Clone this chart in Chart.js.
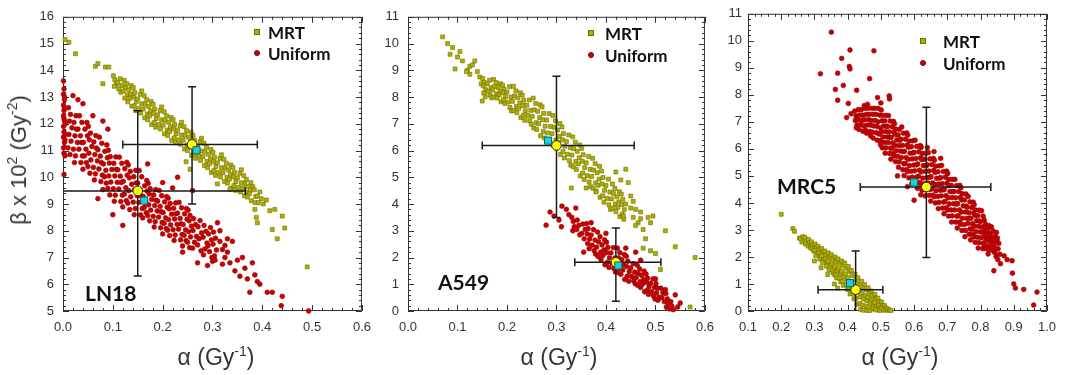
<!DOCTYPE html>
<html lang="en">
<head>
  <meta charset="UTF-8" />
  <title>Alpha / beta parameter clouds</title>
  <script src="https://cdn.jsdelivr.net/npm/chart.js"></script>
  <style>
    body {
      margin: 0;
      background: #fff;
      font-family: 'Liberation Sans', Arial, sans-serif;
    }
    #wrap {
      position: relative;
      width: 1065px;
      height: 375px;
      overflow: hidden;
    }
    canvas {
      position: absolute;
      top: 0;
    }
    .axis-title {
      position: absolute;
      font-size: 23px;
      line-height: 23px;
      color: #333;
      white-space: nowrap;
      transform: translate(-50%, -50%);
    }
    .axis-title sup {
      font-size: 14px;
      line-height: 0;
      vertical-align: 9px;
    }
    .axis-title.ytitle {
      font-size: 22px;
      line-height: 22px;
      transform: translate(-50%, -50%) rotate(-90deg);
    }
    .panel-label {
      position: absolute;
      font-family: Lato, sans-serif;
      font-weight: bold;
      font-size: 21px;
      line-height: 21px;
      color: #111;
      transform: translateY(-50%);
    }
    .legend {
      position: absolute;
      font-family: Lato, sans-serif;
      font-weight: bold;
      font-size: 17px;
      line-height: 17px;
      color: #111;
      transform: translateY(-50%);
    }
    .mk {
      position: absolute;
      width: 4px;
      height: 4px;
      transform: translate(-50%, -50%);
    }
    .mk.sq { background: #b0b000; border: 0.5px solid #707000; }
    .mk.ci { background: #cc0000; border: 0.5px solid #800000; border-radius: 50%; }
  </style>
</head>
<body>
<div id="wrap">
  <canvas id="c1" width="380" height="375" style="left:0px"></canvas>
  <canvas id="c2" width="378" height="375" style="left:345px"></canvas>
  <canvas id="c3" width="380" height="375" style="left:685px"></canvas>

  <div class="axis-title ytitle" style="left:19px; top:160px">β x 10<sup>2</sup> (Gy<sup>-2</sup>)</div>
  <div class="axis-title" style="left:216px; top:357px">α (Gy<sup>-1</sup>)</div>
  <div class="axis-title" style="left:559px; top:357px">α (Gy<sup>-1</sup>)</div>
  <div class="axis-title" style="left:900px; top:357px">α (Gy<sup>-1</sup>)</div>

  <div class="panel-label" style="left:85px; top:292px">LN18</div>
  <div class="panel-label" style="left:438px; top:281px">A549</div>
  <div class="panel-label" style="left:777px; top:185px">MRC5</div>

  <div class="mk sq" style="left:257px; top:32px"></div>
  <div class="legend" style="left:268px; top:32px">MRT</div>
  <div class="mk ci" style="left:257px; top:53px"></div>
  <div class="legend" style="left:268px; top:53px">Uniform</div>

  <div class="mk sq" style="left:591px; top:33px"></div>
  <div class="legend" style="left:605px; top:33px">MRT</div>
  <div class="mk ci" style="left:591px; top:55px"></div>
  <div class="legend" style="left:605px; top:55px">Uniform</div>

  <div class="mk sq" style="left:923px; top:41px"></div>
  <div class="legend" style="left:943px; top:41px">MRT</div>
  <div class="mk ci" style="left:923px; top:63px"></div>
  <div class="legend" style="left:943px; top:63px">Uniform</div>
</div>

<script>
  // ---- LN18 ----
  const ln18Mrt = [
    [0.004,15.15],[0.012,15.05],[0.025,14.62],[0.065,14.15],[0.07,14.25],[0.085,14.12],[0.092,14.12],[0.08,13.5],
    [0.101,13.8],[0.104,13.65],[0.107,13.5],[0.103,13.4],
    [0.115,13.68],[0.11,13.55],[0.118,13.43],[0.112,13.31],[0.116,13.18],
    [0.123,13.62],[0.128,13.5],[0.125,13.36],[0.121,13.22],[0.129,13.08],[0.124,12.96],
    [0.137,13.43],[0.132,13.27],[0.136,13.11],[0.134,12.95],[0.13,12.82],[0.138,12.66],
    [0.141,13.35],[0.144,13.17],[0.142,13.0],[0.147,12.82],[0.143,12.67],[0.146,12.49],
    [0.155,13.1],[0.15,12.93],[0.158,12.75],[0.152,12.57],[0.156,12.4],[0.158,13.23],
    [0.163,13.05],[0.168,12.9],[0.165,12.73],[0.161,12.55],[0.169,12.37],[0.164,12.22],
    [0.177,12.83],[0.172,12.65],[0.176,12.48],[0.174,12.3],[0.17,12.15],[0.178,11.97],
    [0.181,12.73],[0.184,12.55],[0.182,12.38],[0.187,12.2],[0.183,12.05],[0.186,11.87],
    [0.195,12.5],[0.19,12.33],[0.198,12.15],[0.192,11.97],[0.196,11.8],[0.198,12.63],
    [0.203,12.45],[0.208,12.3],[0.205,12.13],[0.201,11.95],[0.209,11.77],[0.204,11.62],
    [0.217,12.24],[0.212,12.06],[0.216,11.89],[0.214,11.71],[0.21,11.56],[0.218,11.38],
    [0.221,12.15],[0.224,11.97],[0.222,11.8],[0.227,11.62],[0.223,11.47],[0.226,11.29],
    [0.235,11.93],[0.23,11.76],[0.238,11.58],[0.232,11.4],[0.236,11.23],[0.238,12.06],
    [0.243,11.89],[0.248,11.74],[0.245,11.57],[0.241,11.39],[0.249,11.21],[0.244,11.06],
    [0.257,11.68],[0.252,11.5],[0.256,11.33],[0.254,11.15],[0.25,11.0],[0.258,10.82],
    [0.261,11.57],[0.264,11.39],[0.262,11.22],[0.267,11.04],[0.263,10.89],[0.266,10.71],
    [0.275,11.33],[0.27,11.16],[0.278,10.98],[0.272,10.8],[0.276,10.63],[0.278,11.46],
    [0.283,11.27],[0.288,11.12],[0.285,10.95],[0.281,10.77],[0.289,10.59],[0.284,10.44],
    [0.297,11.04],[0.292,10.86],[0.296,10.69],[0.294,10.51],[0.29,10.36],[0.298,10.18],
    [0.301,10.93],[0.304,10.75],[0.302,10.58],[0.307,10.4],[0.303,10.25],[0.306,10.07],
    [0.315,10.71],[0.31,10.54],[0.318,10.36],[0.312,10.18],[0.316,10.01],[0.318,10.84],
    [0.323,10.67],[0.328,10.52],[0.325,10.35],[0.321,10.17],[0.329,9.99],[0.324,9.84],
    [0.337,10.46],[0.332,10.28],[0.336,10.11],[0.334,9.93],[0.33,9.78],[0.338,9.6],
    [0.341,10.37],[0.344,10.19],[0.342,10.02],[0.347,9.84],[0.343,9.69],[0.346,9.51],
    [0.355,10.15],[0.35,9.98],[0.358,9.8],[0.352,9.62],[0.356,9.45],[0.358,10.28],
    [0.363,10.06],[0.368,9.92],[0.365,9.76],[0.361,9.6],[0.369,9.45],[0.364,9.31],
    [0.377,9.8],[0.372,9.66],[0.376,9.52],[0.374,9.38],[0.37,9.26],[0.378,9.12],
    [0.381,9.65],[0.384,9.53],[0.387,9.28],[0.386,9.05],
    [0.395,9.45],[0.39,9.3],[0.398,9.2],[0.392,9.05],
    [0.385,8.8],[0.388,8.5],[0.39,8.3],[0.402,9.0],[0.408,9.15],[0.415,8.75],[0.425,8.8],[0.44,8.55],
    [0.445,8.1],[0.42,8.05],[0.43,7.7],[0.49,6.65],[0.247,10.58],[0.255,10.3],[0.31,9.75],[0.335,9.55]
  ];
  const ln18Uniform = [
    [0.001,13.6],[0.002,13.3],[0.001,13.1],[0.003,12.9],[0.001,12.7],[0.002,12.5],[0.001,12.3],[0.003,12.1],
    [0.001,11.9],[0.002,11.7],[0.001,11.5],[0.003,11.3],[0.001,11.1],[0.002,10.9],[0.004,10.8],[0.002,12.2],
    [0.004,11.6],[0.005,12.0],[0.003,13.0],[0.002,10.1],[0.004,11.4],[0.003,12.6],
    [0.011,12.6],[0.015,12.35],[0.013,12.1],[0.018,11.85],[0.012,11.6],[0.016,11.35],[0.01,11.1],[0.014,10.85],
    [0.026,12.3],[0.022,12.05],[0.027,11.8],[0.024,11.55],[0.029,11.3],[0.021,11.05],[0.025,10.8],[0.023,10.55],
    [0.033,12.3],[0.038,12.05],[0.03,11.8],[0.035,11.55],[0.037,11.3],[0.032,11.05],[0.039,10.8],[0.036,10.55],
    [0.048,12.05],[0.044,11.8],[0.049,11.55],[0.041,11.3],[0.046,11.05],[0.043,10.8],[0.047,10.55],[0.04,10.3],
    [0.051,11.9],[0.055,11.65],[0.053,11.4],[0.058,11.15],[0.052,10.9],[0.056,10.65],[0.05,10.4],[0.054,10.15],
    [0.066,11.56],[0.062,11.32],[0.067,11.09],[0.064,10.85],[0.069,10.61],[0.061,10.37],[0.065,10.13],[0.063,9.9],
    [0.073,11.5],[0.078,11.27],[0.07,11.03],[0.075,10.79],[0.077,10.55],[0.072,10.31],[0.079,10.08],[0.076,9.84],
    [0.088,11.21],[0.084,10.97],[0.089,10.73],[0.081,10.5],[0.086,10.26],[0.083,10.02],[0.087,9.78],[0.08,9.54],
    [0.091,11.01],[0.095,10.77],[0.093,10.53],[0.098,10.29],[0.092,10.05],[0.096,9.82],[0.09,9.58],[0.094,9.34],
    [0.106,10.76],[0.102,10.52],[0.107,10.29],[0.104,10.05],[0.109,9.81],[0.101,9.57],[0.105,9.33],[0.103,9.1],
    [0.113,10.75],[0.118,10.52],[0.11,10.28],[0.115,10.04],[0.117,9.8],[0.112,9.56],[0.119,9.33],[0.116,9.09],
    [0.128,10.56],[0.124,10.32],[0.129,10.08],[0.121,9.85],[0.126,9.61],[0.123,9.37],[0.127,9.13],[0.12,8.89],
    [0.131,10.46],[0.135,10.22],[0.133,9.98],[0.138,9.74],[0.132,9.5],[0.136,9.27],[0.13,9.03],[0.134,8.79],
    [0.146,10.26],[0.142,10.02],[0.147,9.79],[0.144,9.55],[0.149,9.31],[0.141,9.07],[0.145,8.83],[0.143,8.6],
    [0.153,10.25],[0.158,10.02],[0.15,9.78],[0.155,9.54],[0.157,9.3],[0.152,9.06],[0.159,8.83],[0.156,8.59],
    [0.168,9.88],[0.164,9.68],[0.169,9.48],[0.161,9.28],[0.166,9.08],[0.163,8.88],[0.167,8.68],[0.16,8.48],
    [0.171,9.77],[0.175,9.57],[0.173,9.37],[0.178,9.17],[0.172,8.97],[0.176,8.77],[0.17,8.57],[0.174,8.37],
    [0.186,9.54],[0.182,9.34],[0.187,9.14],[0.184,8.94],[0.189,8.74],[0.181,8.54],[0.185,8.34],[0.183,8.14],
    [0.193,9.51],[0.198,9.31],[0.19,9.11],[0.195,8.91],[0.197,8.71],[0.192,8.51],[0.199,8.31],[0.196,8.11],
    [0.208,9.28],[0.204,9.08],[0.209,8.88],[0.201,8.68],[0.206,8.48],[0.203,8.28],[0.207,8.08],[0.2,7.88],
    [0.211,9.22],[0.215,9.02],[0.213,8.82],[0.218,8.62],[0.212,8.42],[0.216,8.22],[0.21,8.02],[0.214,7.82],
    [0.226,9.04],[0.222,8.84],[0.227,8.64],[0.224,8.44],[0.229,8.24],[0.221,8.04],[0.225,7.84],[0.223,7.64],
    [0.233,9.06],[0.238,8.86],[0.23,8.66],[0.235,8.46],[0.237,8.26],[0.232,8.06],[0.239,7.86],[0.236,7.66],
    [0.248,8.83],[0.244,8.63],[0.249,8.43],[0.241,8.23],[0.246,8.03],[0.243,7.83],[0.247,7.63],[0.24,7.43],
    [0.251,8.77],[0.255,8.57],[0.253,8.37],[0.258,8.17],[0.252,7.97],[0.256,7.77],[0.25,7.57],[0.254,7.37],
    [0.262,8.45],[0.266,8.23],[0.261,8.01],[0.268,7.79],[0.264,7.57],[0.26,7.35],
    [0.275,8.38],[0.271,8.15],[0.278,7.92],[0.273,7.7],[0.27,7.47],[0.277,7.25],
    [0.283,8.2],[0.287,7.98],[0.281,7.76],[0.289,7.54],[0.285,7.32],[0.282,7.1],
    [0.296,8.12],[0.292,7.88],[0.298,7.66],[0.291,7.44],[0.294,7.22],[0.299,7.0],
    [0.302,7.95],[0.306,7.72],[0.301,7.5],[0.308,7.28],[0.304,7.06],[0.3,6.86],
    [0.31,8.3],[0.305,6.9],[0.315,7.6],[0.32,7.3],[0.325,7.0],[0.33,7.7],[0.335,6.8],[0.34,7.6],
    [0.345,6.5],[0.35,6.9],[0.355,6.3],[0.36,7.0],[0.365,6.6],[0.37,6.2],[0.375,5.7],[0.38,6.8],
    [0.385,6.35],[0.39,6.1],[0.395,6.0],[0.41,5.7],[0.42,5.7],[0.44,5.55],[0.438,5.2],[0.493,5.0],
    [0.27,6.8],[0.24,7.2],[0.12,8.2],[0.1,8.6],[0.07,9.2],[0.09,11.8],[0.06,12.3],[0.04,12.75],
    [0.03,12.9],[0.02,13.05],[0.22,9.6],[0.2,9.8],[0.17,10.5],[0.23,10.0],[0.26,9.5],[0.08,12.1],
    [0.315,8.0],[0.325,7.45],[0.33,7.2],[0.32,6.75],[0.29,6.7]
  ];
  const ln18Means = [[0.259, 11.23], [0.15, 9.49]];
  const ln18Squares = [[0.268, 11.01], [0.163, 9.13]];
  const ln18ErrX = [[0.12, 0.39], [-0.07, 0.366]];
  const ln18ErrY = [[9.0, 13.38], [6.31, 12.49]];

  // ---- A549 ----
  const a549Mrt = [
    [0.07,10.25],[0.08,10.0],[0.085,9.6],[0.09,9.85],[0.095,9.05],[0.1,9.5],[0.105,9.7],[0.11,9.35],
    [0.12,9.0],[0.125,8.85],[0.125,9.15],[0.13,9.2],[0.14,8.95],[0.135,9.35],[0.118,8.95],[0.145,8.75],
    [0.15,7.85],[0.148,8.5],
    [0.151,8.69],[0.154,8.55],[0.152,8.41],[0.157,8.27],[0.153,8.15],[0.156,8.01],
    [0.165,8.63],[0.16,8.49],[0.168,8.35],[0.162,8.21],[0.166,8.07],[0.169,7.97],
    [0.173,8.66],[0.178,8.54],[0.175,8.4],[0.171,8.26],[0.179,8.12],[0.174,8.0],
    [0.187,8.5],[0.182,8.36],[0.186,8.22],[0.184,8.08],[0.18,7.96],[0.188,7.82],
    [0.191,8.44],[0.194,8.3],[0.192,8.16],[0.197,8.02],[0.193,7.9],[0.196,7.76],
    [0.205,8.39],[0.2,8.19],[0.208,8.0],[0.202,7.81],[0.206,7.61],[0.209,7.48],
    [0.213,8.4],[0.218,8.23],[0.215,8.04],[0.211,7.84],[0.219,7.65],[0.214,7.49],
    [0.227,8.16],[0.222,7.97],[0.226,7.78],[0.224,7.58],[0.22,7.42],[0.228,7.23],
    [0.231,8.07],[0.234,7.88],[0.232,7.68],[0.237,7.49],[0.233,7.32],[0.236,7.13],
    [0.245,7.89],[0.24,7.69],[0.248,7.5],[0.242,7.31],[0.246,7.11],[0.249,6.98],
    [0.253,7.96],[0.258,7.76],[0.255,7.52],[0.251,7.28],[0.259,7.04],[0.254,6.84],
    [0.267,7.71],[0.262,7.47],[0.266,7.23],[0.264,7.0],[0.26,6.79],[0.268,6.55],
    [0.271,7.63],[0.274,7.39],[0.272,7.15],[0.277,6.91],[0.273,6.71],[0.276,6.47],
    [0.285,7.38],[0.28,7.14],[0.288,6.9],[0.282,6.66],[0.286,6.42],[0.289,6.25],
    [0.293,7.31],[0.298,7.11],[0.295,6.87],[0.291,6.63],[0.299,6.39],[0.294,6.19],
    [0.307,7.01],[0.302,6.77],[0.306,6.53],[0.304,6.3],[0.3,6.09],[0.308,5.85],
    [0.311,6.88],[0.314,6.64],[0.312,6.4],[0.317,6.16],[0.313,5.96],[0.316,5.72],
    [0.325,6.58],[0.32,6.34],[0.328,6.1],[0.322,5.86],[0.326,5.62],[0.329,5.45],
    [0.333,6.51],[0.338,6.31],[0.335,6.07],[0.331,5.83],[0.339,5.59],[0.334,5.39],
    [0.347,6.21],[0.342,5.97],[0.346,5.73],[0.344,5.5],[0.34,5.29],[0.348,5.05],
    [0.351,6.08],[0.354,5.84],[0.352,5.6],[0.357,5.36],[0.353,5.16],[0.356,4.92],
    [0.365,5.78],[0.36,5.54],[0.368,5.3],[0.362,5.06],[0.366,4.82],[0.369,4.65],
    [0.373,5.71],[0.378,5.51],[0.375,5.27],[0.371,5.03],[0.379,4.79],[0.374,4.59],
    [0.387,5.41],[0.382,5.17],[0.386,4.93],[0.384,4.7],[0.38,4.49],[0.388,4.25],
    [0.391,5.23],[0.394,4.99],[0.392,4.75],[0.397,4.51],[0.393,4.31],[0.396,4.07],
    [0.405,4.93],[0.4,4.69],[0.408,4.45],[0.402,4.21],[0.406,3.97],[0.409,3.8],
    [0.413,4.75],[0.418,4.58],[0.415,4.39],[0.411,4.19],[0.419,4.0],[0.414,3.84],
    [0.427,4.46],[0.422,4.27],[0.426,4.08],[0.424,3.88],[0.42,3.72],[0.428,3.53],
    [0.431,4.37],[0.434,4.18],[0.432,3.98],[0.437,3.79],[0.433,3.62],[0.436,3.43],
    [0.44,5.3],[0.445,4.8],[0.45,3.85],[0.455,3.5],[0.46,3.8],[0.465,3.3],[0.47,3.7],[0.475,3.05],
    [0.48,2.7],[0.475,2.35],[0.49,2.25],[0.495,3.55],[0.5,2.15],[0.52,3.0],[0.54,2.4],[0.51,1.55],
    [0.57,0.15],[0.58,2.0],[0.435,3.55],[0.46,3.2],[0.33,4.6],[0.36,4.6],[0.38,4.45],[0.45,4.3],
    [0.44,4.0],[0.47,3.45],[0.455,4.1],[0.485,3.5],[0.49,3.3],[0.43,4.9],[0.42,5.2]
  ];
  const a549Uniform = [
    [0.279,3.21],[0.287,3.7],[0.311,3.92],[0.339,3.85],[0.295,3.55],[0.305,3.4],[0.32,3.8],[0.325,3.6],[0.31,3.15],
    [0.331,3.5],[0.334,3.35],[0.336,3.15],[0.333,3.0],
    [0.342,3.4],[0.345,3.2],[0.341,3.05],[0.347,2.85],
    [0.353,3.25],[0.358,3.05],[0.351,2.9],[0.356,2.7],
    [0.361,3.27],[0.364,3.08],[0.362,2.88],[0.367,2.69],[0.363,2.52],[0.366,2.33],
    [0.375,3.04],[0.37,2.84],[0.378,2.65],[0.372,2.46],[0.376,2.26],[0.379,2.13],
    [0.383,2.95],[0.388,2.78],[0.385,2.59],[0.381,2.39],[0.389,2.2],[0.384,2.04],
    [0.397,2.66],[0.392,2.47],[0.396,2.28],[0.394,2.08],[0.39,1.92],[0.398,1.73],
    [0.401,2.57],[0.404,2.38],[0.402,2.18],[0.407,1.99],[0.403,1.82],[0.406,1.63],
    [0.415,2.37],[0.41,2.17],[0.418,1.98],[0.412,1.79],[0.416,1.59],[0.419,1.46],
    [0.423,2.35],[0.428,2.18],[0.425,1.99],[0.421,1.79],[0.429,1.6],[0.424,1.44],
    [0.437,2.11],[0.432,1.92],[0.436,1.73],[0.434,1.53],[0.43,1.37],[0.438,1.18],
    [0.441,2.05],[0.444,1.86],[0.442,1.66],[0.447,1.47],[0.443,1.3],[0.446,1.11],
    [0.455,1.77],[0.45,1.61],[0.458,1.45],[0.452,1.29],[0.456,1.13],[0.459,1.02],
    [0.463,1.71],[0.468,1.57],[0.465,1.41],[0.461,1.25],[0.469,1.1],[0.464,0.96],
    [0.477,1.49],[0.472,1.33],[0.476,1.17],[0.474,1.01],[0.47,0.88],[0.478,0.72],
    [0.481,1.38],[0.484,1.23],[0.482,1.07],[0.487,0.91],[0.483,0.77],[0.486,0.62],
    [0.495,1.2],[0.49,1.04],[0.498,0.88],[0.492,0.72],[0.496,0.56],[0.499,0.45],
    [0.501,1.02],[0.504,0.85],[0.502,0.68],[0.507,0.52],[0.505,0.4],
    [0.511,0.85],[0.515,0.68],[0.513,0.5],[0.518,0.35],
    [0.521,0.65],[0.524,0.45],[0.526,0.3],[0.522,0.15],
    [0.531,0.35],[0.533,0.18],[0.536,0.05],[0.529,0.08],
    [0.55,0.3],[0.54,0.6],[0.545,0.15],[0.44,2.35],[0.46,2.2],[0.355,2.2],[0.37,3.3],[0.4,2.9],
    [0.47,1.9],[0.5,1.2],[0.52,0.8]
  ];
  const a549Means = [[0.300, 6.19], [0.420, 1.82]];
  const a549Squares = [[0.283, 6.37], [0.425, 1.70]];
  const a549ErrX = [[0.15, 0.457], [0.337, 0.511]];
  const a549ErrY = [[3.5, 8.78], [0.36, 3.1]];

  // ---- MRC5 ----
  const mrc5Mrt = [
    [0.2,3.58],[0.235,3.05],[0.24,2.95],[0.255,2.7],[0.258,2.68],[0.265,2.75],[0.262,2.55],
    [0.271,2.72],[0.275,2.6],[0.273,2.48],
    [0.282,2.65],[0.286,2.52],[0.281,2.4],[0.288,2.34],
    [0.291,2.56],[0.295,2.44],[0.293,2.3],[0.298,2.22],
    [0.302,2.48],[0.306,2.36],[0.301,2.24],[0.308,2.12],[0.304,2.05],
    [0.311,2.4],[0.315,2.27],[0.313,2.14],[0.318,2.01],[0.316,1.92],
    [0.322,2.31],[0.326,2.18],[0.321,2.04],[0.328,1.9],[0.324,1.79],
    [0.331,2.22],[0.335,2.08],[0.333,1.93],[0.338,1.79],[0.336,1.66],
    [0.342,2.15],[0.346,2.0],[0.341,1.84],[0.348,1.69],[0.344,1.52],
    [0.351,2.08],[0.355,1.92],[0.353,1.75],[0.358,1.58],[0.356,1.42],[0.359,1.36],
    [0.362,2.0],[0.366,1.83],[0.361,1.65],[0.368,1.48],[0.364,1.32],[0.367,1.22],
    [0.371,1.93],[0.375,1.75],[0.373,1.56],[0.378,1.38],[0.376,1.21],[0.379,1.08],
    [0.382,1.85],[0.386,1.67],[0.381,1.47],[0.388,1.28],[0.384,1.1],[0.387,0.95],
    [0.391,1.78],[0.395,1.58],[0.393,1.38],[0.398,1.18],[0.396,0.98],[0.399,0.8],
    [0.402,1.65],[0.406,1.45],[0.401,1.24],[0.408,1.03],[0.404,0.82],[0.407,0.63],
    [0.411,1.5],[0.415,1.3],[0.413,1.08],[0.418,0.86],[0.416,0.65],[0.419,0.45],
    [0.422,1.37],[0.426,1.15],[0.421,0.92],[0.428,0.7],[0.424,0.47],[0.427,0.25],
    [0.431,1.23],[0.435,1.0],[0.433,0.76],[0.438,0.52],[0.436,0.28],[0.439,0.06],
    [0.442,1.1],[0.446,0.88],[0.441,0.66],[0.448,0.44],[0.444,0.22],[0.447,0.03],
    [0.451,0.98],[0.455,0.78],[0.453,0.58],[0.458,0.38],[0.456,0.18],[0.459,0.02],
    [0.462,0.86],[0.466,0.68],[0.461,0.5],[0.468,0.32],[0.464,0.15],[0.467,0.02],
    [0.471,0.74],[0.475,0.58],[0.473,0.42],[0.478,0.26],[0.476,0.1],
    [0.482,0.62],[0.486,0.47],[0.481,0.32],[0.488,0.17],[0.484,0.04],
    [0.491,0.48],[0.495,0.35],[0.493,0.22],[0.498,0.1],[0.496,0.02],
    [0.502,0.33],[0.506,0.2],[0.501,0.1],[0.508,0.03],
    [0.511,0.2],[0.515,0.1],[0.518,0.03],
    [0.521,0.08],[0.526,0.03],
    [0.3,1.85],[0.32,1.6],[0.34,1.35],[0.36,1.0],[0.37,0.85],[0.53,0.02]
  ];
  const mrc5Uniform = [
    [0.351,10.32],[0.318,8.78],[0.407,9.66],[0.479,9.63],[0.382,9.35],[0.405,9.05],[0.407,8.96],[0.37,8.8],
    [0.466,8.6],[0.363,8.2],[0.387,8.35],[0.427,8.17],[0.37,7.8],[0.402,7.68],[0.525,7.96],[0.526,7.85],
    [0.397,7.16],[0.41,7.3],[0.49,7.9],[0.5,7.7],[0.46,7.65],[0.45,7.6],
    [0.421,7.4],[0.425,7.22],[0.423,7.05],[0.428,6.88],[0.426,6.78],
    [0.432,7.45],[0.436,7.25],[0.431,7.08],[0.438,6.9],[0.434,6.72],
    [0.441,7.45],[0.445,7.25],[0.443,7.05],[0.448,6.85],[0.446,6.65],
    [0.452,7.5],[0.456,7.28],[0.451,7.08],[0.458,6.88],[0.454,6.68],[0.457,6.58],
    [0.461,7.5],[0.465,7.28],[0.463,7.08],[0.468,6.88],[0.466,6.65],[0.469,6.48],
    [0.472,7.5],[0.476,7.28],[0.471,7.05],[0.478,6.85],[0.474,6.62],[0.477,6.4],
    [0.481,7.5],[0.485,7.28],[0.483,7.05],[0.488,6.83],[0.486,6.6],[0.489,6.32],
    [0.492,7.5],[0.496,7.25],[0.491,7.0],[0.498,6.78],[0.494,6.55],[0.497,6.3],[0.499,6.15],
    [0.501,7.44],[0.505,7.24],[0.503,7.04],[0.508,6.84],[0.502,6.64],[0.506,6.44],[0.5,6.24],[0.504,6.04],
    [0.516,7.24],[0.512,7.04],[0.517,6.84],[0.514,6.64],[0.519,6.44],[0.511,6.24],[0.515,6.04],[0.513,5.84],
    [0.523,7.23],[0.528,7.03],[0.52,6.83],[0.525,6.63],[0.527,6.43],[0.522,6.23],[0.529,6.03],[0.526,5.83],
    [0.538,7.02],[0.534,6.82],[0.539,6.62],[0.531,6.42],[0.536,6.22],[0.533,6.02],[0.537,5.82],[0.53,5.62],
    [0.541,6.93],[0.545,6.73],[0.543,6.53],[0.548,6.33],[0.542,6.13],[0.546,5.93],[0.54,5.73],[0.544,5.53],
    [0.556,6.72],[0.552,6.52],[0.557,6.32],[0.554,6.12],[0.559,5.92],[0.551,5.72],[0.555,5.52],[0.553,5.32],
    [0.563,6.81],[0.568,6.58],[0.56,6.36],[0.565,6.13],[0.567,5.9],[0.562,5.68],[0.569,5.45],[0.566,5.23],
    [0.578,6.59],[0.574,6.36],[0.579,6.14],[0.571,5.91],[0.576,5.68],[0.573,5.46],[0.577,5.23],[0.57,5.01],
    [0.581,6.51],[0.585,6.29],[0.583,6.06],[0.588,5.84],[0.582,5.61],[0.586,5.38],[0.58,5.16],[0.584,4.93],
    [0.596,6.3],[0.592,6.08],[0.597,5.85],[0.594,5.63],[0.599,5.4],[0.591,5.17],[0.595,4.95],[0.593,4.72],
    [0.603,6.32],[0.608,6.09],[0.6,5.87],[0.605,5.64],[0.607,5.41],[0.602,5.19],[0.609,4.96],[0.606,4.74],
    [0.618,6.12],[0.614,5.89],[0.619,5.67],[0.611,5.44],[0.616,5.21],[0.613,4.99],[0.617,4.76],[0.61,4.54],
    [0.621,6.05],[0.625,5.83],[0.623,5.6],[0.628,5.38],[0.622,5.15],[0.626,4.92],[0.62,4.7],[0.624,4.47],
    [0.636,5.84],[0.632,5.62],[0.637,5.39],[0.634,5.17],[0.639,4.94],[0.631,4.71],[0.635,4.49],[0.633,4.26],
    [0.643,5.86],[0.648,5.63],[0.64,5.41],[0.645,5.18],[0.647,4.95],[0.642,4.73],[0.649,4.5],[0.646,4.28],
    [0.658,5.65],[0.654,5.42],[0.659,5.2],[0.651,4.97],[0.656,4.74],[0.653,4.52],[0.657,4.29],[0.65,4.07],
    [0.661,5.58],[0.665,5.36],[0.663,5.13],[0.668,4.91],[0.662,4.68],[0.666,4.45],[0.66,4.23],[0.664,4.0],
    [0.676,5.37],[0.672,5.15],[0.677,4.92],[0.674,4.7],[0.679,4.47],[0.671,4.24],[0.675,4.02],[0.673,3.79],
    [0.683,5.39],[0.688,5.16],[0.68,4.94],[0.685,4.71],[0.687,4.48],[0.682,4.26],[0.689,4.03],[0.686,3.81],
    [0.698,5.18],[0.694,4.95],[0.699,4.73],[0.691,4.5],[0.696,4.27],[0.693,4.05],[0.697,3.82],[0.69,3.6],
    [0.701,5.09],[0.705,4.87],[0.703,4.64],[0.708,4.42],[0.702,4.19],[0.706,3.96],[0.7,3.74],[0.704,3.51],
    [0.716,4.87],[0.712,4.65],[0.717,4.42],[0.714,4.2],[0.719,3.97],[0.711,3.74],[0.715,3.52],[0.713,3.29],
    [0.723,4.87],[0.728,4.64],[0.72,4.42],[0.725,4.19],[0.727,3.96],[0.722,3.74],[0.729,3.51],[0.726,3.29],
    [0.738,4.65],[0.734,4.42],[0.739,4.2],[0.731,3.97],[0.736,3.74],[0.733,3.52],[0.737,3.29],[0.73,3.07],
    [0.741,4.56],[0.745,4.34],[0.743,4.11],[0.748,3.89],[0.742,3.66],[0.746,3.43],[0.74,3.21],[0.744,2.98],
    [0.756,4.33],[0.752,4.11],[0.757,3.88],[0.754,3.66],[0.759,3.43],[0.751,3.2],[0.755,2.98],[0.753,2.75],
    [0.763,4.24],[0.768,4.04],[0.76,3.84],[0.765,3.64],[0.767,3.44],[0.762,3.24],[0.769,3.04],[0.766,2.84],
    [0.778,4.03],[0.774,3.83],[0.779,3.63],[0.771,3.43],[0.776,3.23],[0.773,3.03],[0.777,2.83],[0.77,2.63],
    [0.781,3.94],[0.785,3.74],[0.783,3.54],[0.788,3.34],[0.782,3.14],[0.786,2.94],[0.78,2.74],[0.784,2.54],
    [0.796,3.73],[0.792,3.53],[0.797,3.33],[0.794,3.13],[0.799,2.93],[0.791,2.73],[0.795,2.53],[0.793,2.33],
    [0.803,3.71],[0.808,3.51],[0.8,3.31],[0.805,3.11],[0.807,2.91],[0.802,2.71],[0.809,2.51],[0.806,2.31],
    [0.811,3.36],[0.815,3.21],[0.813,3.06],[0.818,2.91],[0.812,2.76],[0.816,2.61],[0.81,2.46],[0.814,2.31],
    [0.826,3.16],[0.822,3.01],[0.827,2.86],[0.824,2.71],[0.829,2.56],[0.821,2.41],[0.825,2.26],[0.823,2.11],
    [0.833,3.11],[0.838,2.96],[0.83,2.81],[0.835,2.66],[0.837,2.51],[0.832,2.36],[0.839,2.21],
    [0.848,2.91],[0.844,2.76],[0.849,2.61],[0.841,2.46],[0.846,2.31],[0.843,2.16],[0.847,2.01],
    [0.851,2.7],[0.855,2.5],[0.853,2.3],[0.858,2.1],[0.852,1.9],
    [0.871,2.04],[0.895,1.86],[0.896,1.4],[0.9,1.0],[0.905,0.85],[0.93,0.8],[0.97,0.7],[0.96,0.22],
    [0.84,1.49],[0.86,1.75],[0.88,1.9],[0.62,6.1],[0.64,6.05],[0.66,5.9],[0.68,5.65],[0.7,5.1],
    [0.55,5.0],[0.58,4.6],[0.62,4.3],[0.6,4.1]
  ];
  const mrc5Means = [[0.424, 0.79], [0.637, 4.59]];
  const mrc5Squares = [[0.407, 1.03], [0.600, 4.76]];
  const mrc5ErrX = [[0.311, 0.506], [0.438, 0.831]];
  const mrc5ErrY = [[-0.6, 2.22], [1.98, 7.54]];

  // box frame with inward major/minor ticks on all four sides
  const frameTicks = {
    id: 'frameTicks',
    beforeDatasetsDraw(chart) {
      const { ctx, chartArea: a, scales: { x, y } } = chart;
      ctx.save();
      ctx.strokeStyle = '#333';
      ctx.lineWidth = 1;
      ctx.beginPath();
      ctx.rect(a.left + 0.5, a.top + 0.5, a.right - a.left - 1, a.bottom - a.top - 1);
      const nx = Math.round((x.max - x.min) / 0.02);
      for (let i = 0; i <= nx; i++) {
        const px = Math.round(x.getPixelForValue(x.min + i * 0.02)) + 0.5;
        const len = i % 5 === 0 ? 6 : 3;
        ctx.moveTo(px, a.bottom); ctx.lineTo(px, a.bottom - len);
        ctx.moveTo(px, a.top); ctx.lineTo(px, a.top + len);
      }
      const ny = Math.round((y.max - y.min) / 0.2);
      for (let i = 0; i <= ny; i++) {
        const py = Math.round(y.getPixelForValue(y.min + i * 0.2)) + 0.5;
        const len = i % 5 === 0 ? 6 : 3;
        ctx.moveTo(a.left, py); ctx.lineTo(a.left + len, py);
        ctx.moveTo(a.right, py); ctx.lineTo(a.right - len, py);
      }
      ctx.stroke();
      ctx.restore();
    }
  };

  // error bars, drawn just before the mean markers
  const errorBars = {
    id: 'errorBars',
    beforeDatasetDraw(chart, args, opts) {
      if (chart.data.datasets[args.index].label !== 'mean') return;
      const { ctx, chartArea: a, scales: { x, y } } = chart;
      ctx.save();
      ctx.beginPath();
      ctx.rect(a.left, a.top, a.width, a.height);
      ctx.clip();
      ctx.strokeStyle = '#1a1a1a';
      ctx.lineWidth = 1.5;
      opts.centers.forEach(([cx, cy], i) => {
        const px = x.getPixelForValue(cx), py = y.getPixelForValue(cy);
        const [x0, x1] = opts.errX[i].map(v => x.getPixelForValue(v));
        const [y0, y1] = opts.errY[i].map(v => y.getPixelForValue(v));
        ctx.beginPath();
        ctx.moveTo(x0, py); ctx.lineTo(x1, py);
        ctx.moveTo(x0, py - 4); ctx.lineTo(x0, py + 4);
        ctx.moveTo(x1, py - 4); ctx.lineTo(x1, py + 4);
        ctx.moveTo(px, y0); ctx.lineTo(px, y1);
        ctx.moveTo(px - 4, y0); ctx.lineTo(px + 4, y0);
        ctx.moveTo(px - 4, y1); ctx.lineTo(px + 4, y1);
        ctx.stroke();
      });
      ctx.restore();
    }
  };

  function makePanel(id, mrt, uniform, means, squares, errX, errY, xRange, yRange, labelPad, padRight) {
    const tickFont = { family: "'Liberation Sans', Arial, sans-serif", size: 13 };
    return new Chart(document.getElementById(id), {
      type: 'scatter',
      data: {
        datasets: [
          { label: 'square', data: squares, order: 0, pointStyle: 'rect', pointRadius: 5,
            backgroundColor: '#19d3dc', borderColor: '#1d5f63', borderWidth: 1 },
          { label: 'mean', data: means, order: 1, pointStyle: 'circle', pointRadius: 4.8,
            backgroundColor: '#ffff00', borderColor: '#2a2a2a', borderWidth: 1 },
          { label: 'Uniform', data: uniform, order: 2, pointStyle: 'circle', pointRadius: 2.4,
            backgroundColor: '#cc0000', borderColor: '#8a0000', borderWidth: 0.6, clip: 4 },
          { label: 'MRT', data: mrt, order: 3, pointStyle: 'rect', pointRadius: 2.8,
            backgroundColor: '#b0b000', borderColor: '#6f6f00', borderWidth: 0.6, clip: 4 }
        ]
      },
      options: {
        responsive: false,
        animation: false,
        events: [],
        layout: { padding: { left: 0, top: 9, right: padRight, bottom: 0 } },
        plugins: {
          legend: { display: false },
          tooltip: { enabled: false },
          errorBars: { centers: means, errX: errX, errY: errY }
        },
        scales: {
          x: {
            type: 'linear', min: xRange[0], max: xRange[1],
            afterFit: s => { s.height = 64; },
            grid: { display: false, drawTicks: false, tickLength: 0 }, border: { display: false },
            ticks: { stepSize: 0.1, padding: 9, color: '#333', font: tickFont,
                     maxRotation: 0, autoSkip: false, callback: v => v.toFixed(1) }
          },
          y: {
            type: 'linear', min: yRange[0], max: yRange[1],
            afterFit: s => { s.width = 63; },
            grid: { display: false, drawTicks: false, tickLength: 0 }, border: { display: false },
            ticks: { stepSize: 1, padding: labelPad, color: '#333', font: tickFont,
                     autoSkip: false, callback: v => String(v) }
          }
        }
      },
      plugins: [frameTicks, errorBars]
    });
  }

  makePanel('c1', ln18Mrt, ln18Uniform, ln18Means, ln18Squares, ln18ErrX, ln18ErrY, [0, 0.6], [5, 16], 9, 13);
  makePanel('c2', a549Mrt, a549Uniform, a549Means, a549Squares, a549ErrX, a549ErrY, [0, 0.6], [0, 11], 9, 13);
  makePanel('c3', mrc5Mrt, mrc5Uniform, mrc5Means, mrc5Squares, mrc5ErrX, mrc5ErrY, [0.1, 1.0], [0, 11], 6, 13);
</script>
</body>
</html>
